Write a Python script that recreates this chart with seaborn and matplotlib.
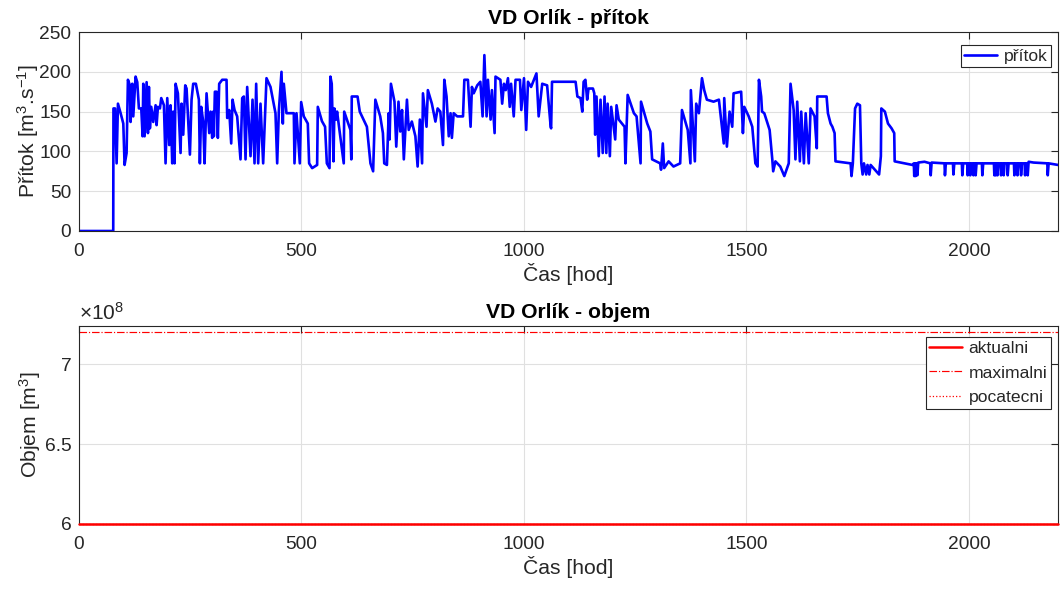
import matplotlib
matplotlib.use("Agg")
import matplotlib.pyplot as plt
import seaborn as sns
import numpy as np
import pandas as pd
from matplotlib.ticker import FuncFormatter

# ---------------- data ----------------
# inflow (přítok) breakpoints: (hour, m3/s)
pritok_body = [
    (0, 0), (77, 0), (77.5, 154), (81, 154), (84.6, 85), (87.6, 160), (93.6, 148), (99.6, 135),
    (102.5, 83), (107, 98), (110, 190), (114.5, 183), (116, 137), (119.8, 185), (122, 144),
    (127.2, 194), (131, 187), (134.7, 154), (140, 154), (143, 119), (144.5, 185), (147.5, 119),
    (152, 187), (155, 123), (157.2, 181), (159.4, 129), (162.4, 156), (166.9, 137), (172.2, 158),
    (174.4, 133), (177.4, 156), (181.9, 154), (184.9, 167), (190.9, 158), (194.6, 85), (198.4, 167),
    (202.8, 108), (205.8, 158), (209.6, 85), (211.8, 150), (214.8, 85), (217.1, 185), (222.3, 173),
    (228.3, 98), (230.5, 160), (234.3, 121), (238.8, 183), (241.8, 179), (249.3, 96), (253, 165),
    (256.7, 185), (262.7, 185), (269.5, 165), (271.7, 85), (274.7, 156), (279.2, 137), (282.2, 85),
    (286.7, 173), (292.7, 123), (295.7, 150), (299.4, 117), (301.6, 150), (303.1, 119), (305.4, 175),
    (309.1, 175), (312.1, 117), (315.1, 185), (321.9, 190), (331.6, 190), (333.1, 142), (337.6, 152),
    (342.1, 110), (345.1, 165), (349.6, 152), (355.5, 144), (363, 90), (366.8, 167), (370.5, 169),
    (374.3, 90), (378, 181), (385.5, 94), (390, 165), (394.5, 85), (398.2, 185), (402.7, 85),
    (407.9, 160), (413.9, 85), (421.4, 192), (430.4, 181), (441.6, 148), (445.4, 85), (449.1, 150),
    (455.1, 200), (458.1, 135), (460.3, 185), (466.3, 148), (482.8, 148), (484.3, 85), (488.8, 148),
    (496.3, 85), (499.3, 162), (505.2, 144), (514.2, 135), (517.2, 85), (524, 79), (535.2, 83),
    (536.7, 156), (546, 138), (553, 131), (557, 85), (563, 79), (565, 194), (568, 185), (572, 87.5),
    (574, 154), (578, 140), (580, 150), (595, 85), (596, 150), (602, 140), (610, 127), (612, 90),
    (613, 169), (626, 169), (631, 150), (636, 144), (647, 131), (655, 85), (661, 75), (666, 165),
    (677, 144), (683, 123), (686, 85), (692, 83), (696, 148), (698, 115), (701, 185), (709, 162.5),
    (713, 106), (718, 162.5), (722, 125), (726, 152), (730, 90), (737, 165), (741, 127), (748, 137.5),
    (756, 119), (761, 81), (766, 140), (771, 85), (773, 173), (781, 131), (784, 177), (793, 160),
    (801, 137.5), (806, 154), (812, 150), (818, 108), (821, 190), (826, 169), (831, 119), (835, 148),
    (838, 117), (842, 148), (850, 144), (863, 144), (866, 190), (874, 190), (880, 131), (883, 181),
    (887, 173), (895, 183), (902, 187.5), (907, 144), (911, 221), (916, 144), (919, 190), (925, 140),
    (928, 177), (934, 123), (936, 194), (947, 190), (951, 160), (955, 185), (959, 177), (964, 192),
    (968, 156), (971, 185), (977, 144), (981, 190), (991, 190), (994, 152), (1000, 192), (1005, 127),
    (1009, 187.5), (1016, 181), (1028, 198), (1033, 144), (1041, 185), (1052, 183), (1060, 131),
    (1061, 129), (1063, 187.5), (1116, 187.5), (1120, 169), (1127, 167), (1131, 150), (1134, 187.5),
    (1138, 190), (1142, 165), (1145, 179), (1155, 179), (1158, 173), (1160, 121), (1163, 169),
    (1168, 94), (1172, 165), (1177, 98), (1181, 169), (1185, 98), (1188, 160), (1193, 94), (1196, 156),
    (1205, 115), (1208, 158), (1213, 140), (1226, 131), (1228, 85), (1233, 171), (1247, 148),
    (1253, 144), (1262, 85), (1263, 162.5), (1277, 135), (1284, 125), (1288, 90), (1306, 85),
    (1308, 77), (1312, 110), (1315, 79), (1325, 87.5), (1336, 81), (1351, 85), (1355, 152), (1368, 127),
    (1374, 85), (1375, 177), (1384, 87.5), (1387, 160), (1393, 148), (1400, 192), (1405, 177),
    (1411, 165), (1426, 162.5), (1438, 165), (1449, 110), (1450, 167), (1456, 106), (1462, 150),
    (1468, 131), (1471, 173), (1488, 175), (1492, 123), (1495, 156), (1505, 144), (1513, 131),
    (1520, 85), (1525, 81), (1528, 190), (1533, 169), (1535, 150), (1540, 148), (1552, 127), (1558, 90),
    (1560, 75), (1565, 87.5), (1576, 81), (1585, 69), (1595, 85), (1599, 185), (1606, 152), (1610, 90),
    (1614, 162.5), (1620, 87.5), (1623, 150), (1629, 85), (1633, 148), (1640, 85), (1644, 154),
    (1653, 144), (1658, 104), (1659, 169), (1680, 169), (1683, 148), (1689, 135), (1693, 131),
    (1698, 123), (1700, 87.5), (1734, 85), (1736, 69), (1739, 85), (1744, 154), (1749, 160),
    (1755, 158), (1758, 85), (1761, 71), (1764, 85), (1769, 71), (1772, 83), (1776, 71), (1779, 83),
    (1798, 71), (1802, 94), (1803, 154), (1811, 150), (1818, 135), (1826, 129), (1832, 123),
    (1833, 87.5), (1873, 83), (1876, 85), (1877, 69), (1879, 85), (1880, 69), (1882, 85), (1884, 70),
    (1886, 86), (1900, 87), (1913, 85), (1914, 70), (1916, 86), (1945, 85), (1946, 70), (1948, 85),
    (1964, 85), (1965, 71), (1967, 85), (1984, 85), (1985, 70), (1987, 85), (1996, 85), (1997, 70),
    (1999, 85), (2002, 85), (2003, 70), (2005, 85), (2009, 85), (2010, 70), (2012, 85), (2014, 85),
    (2015, 70), (2017, 85), (2029, 85), (2030, 70), (2032, 85), (2056, 85), (2057, 70), (2058, 85),
    (2059, 85), (2060, 70), (2061, 85), (2063, 85), (2064, 70), (2066, 85), (2071, 85), (2072, 70),
    (2074, 85), (2077, 85), (2078, 70), (2080, 85), (2086, 85), (2087, 70), (2089, 85), (2101, 85),
    (2102, 70), (2104, 85), (2108, 85), (2109, 70), (2111, 85), (2116, 85), (2117, 70), (2119, 85),
    (2125, 85), (2126, 70), (2128, 85), (2131, 85), (2132, 70), (2134, 87), (2145, 86), (2176, 85),
    (2177, 70), (2179, 85), (2200, 83),
]
cas_pritok = [p[0] for p in pritok_body]
pritok = [p[1] for p in pritok_body]

# reservoir volume (objem)
cas_objem = [0, 2200]
objem_aktualni = [6.0e8, 6.0e8]
objem_maximalni = [7.205e8, 7.205e8]
objem_pocatecni = [6.0e8, 6.0e8]

x_ticks = [0, 500, 1000, 1500, 2000]
y_ticks_pritok = [0, 50, 100, 150, 200, 250]
y_ticks_objem = [6.0e8, 6.5e8, 7.0e8]

# ---------------- style ----------------
sns.set_style("white")
plt.rcParams['font.family'] = ['Liberation Sans', 'DejaVu Sans']
plt.rcParams['mathtext.fontset'] = 'custom'
plt.rcParams['mathtext.rm'] = 'Liberation Sans'
plt.rcParams['mathtext.it'] = 'Liberation Sans:italic'
plt.rcParams['mathtext.bf'] = 'Liberation Sans:bold'

axcol = (0.15, 0.15, 0.15)
gridcol = (0.88, 0.88, 0.88)
TICK_FS = 13.8
LABEL_FS = 15.2
TITLE_FS = 15.2
LEG_FS = 12.6

fig = plt.figure(figsize=(10.6, 5.92), dpi=100)
ax1 = fig.add_axes([0.0745, 0.6098, 0.9236, 0.3361])
ax2 = fig.add_axes([0.0745, 0.1149, 0.9236, 0.3345])


def style_axes(ax):
    ax.set_xlim(0, 2200)
    ax.set_xticks(x_ticks)
    ax.grid(True, color=gridcol, lw=0.8)
    ax.set_axisbelow(True)
    for s in ax.spines.values():
        s.set_color(axcol)
        s.set_linewidth(0.8)
    ax.tick_params(direction='in', top=True, right=True, length=5, width=0.8,
                   colors=axcol, labelsize=TICK_FS)
    ax.tick_params(axis='x', pad=8.5)
    ax.tick_params(axis='y', pad=5.5)


def make_legend(ax, handles, labels, top_gap_px):
    w_ax = 979.0
    h_ax = 199.0
    leg = ax.legend(handles, labels, loc='upper right',
                    bbox_to_anchor=(1 - 7 / w_ax, 1 - top_gap_px / h_ax),
                    bbox_transform=ax.transAxes, borderaxespad=0,
                    fontsize=LEG_FS, frameon=True, fancybox=False, edgecolor=axcol,
                    framealpha=1, handlelength=1.85, borderpad=0.2,
                    handletextpad=0.4, labelspacing=0.55)
    leg.get_frame().set_linewidth(0.8)
    return leg


# top: inflow
df1 = pd.DataFrame({"cas": cas_pritok, "pritok": pritok})
sns.lineplot(data=df1, x="cas", y="pritok", ax=ax1, color=(0, 0, 1), lw=1.9,
             sort=False, estimator=None, label="přítok")
ax1.set_ylim(0, 250)
ax1.set_yticks(y_ticks_pritok)
style_axes(ax1)
ax1.set_title("VD Orlík - přítok", fontsize=TITLE_FS, fontweight='bold', pad=6,
              color='black')
ax1.set_xlabel("Čas [hod]", fontsize=LABEL_FS, color=axcol, labelpad=2)
ax1.set_ylabel("Přítok [m$^3$.s$^{-1}$]", fontsize=LABEL_FS, color=axcol, labelpad=-1)
h, l = ax1.get_legend_handles_labels()
make_legend(ax1, h, l, 13)

# bottom: volume
df2 = pd.DataFrame({"cas": cas_objem, "akt": objem_aktualni,
                    "max": objem_maximalni, "poc": objem_pocatecni})
sns.lineplot(data=df2, x="cas", y="poc", ax=ax2, color=(1, 0, 0), lw=0.9,
             linestyle=':', label="pocatecni", estimator=None)
sns.lineplot(data=df2, x="cas", y="max", ax=ax2, color=(1, 0, 0), lw=0.85,
             linestyle='-.', label="maximalni", estimator=None)
sns.lineplot(data=df2, x="cas", y="akt", ax=ax2, color=(1, 0, 0), lw=1.8,
             label="aktualni", estimator=None)
for ln in ax2.get_lines():
    ln.set_clip_on(False)
    if ln.get_linestyle() == '-':
        ln.set_zorder(4)
ax2.set_ylim(6.0e8, 7.24e8)
ax2.set_yticks(y_ticks_objem)
ax2.yaxis.set_major_formatter(FuncFormatter(lambda v, p: f"{v / 1e8:g}"))
style_axes(ax2)
ax2.set_title("VD Orlík - objem", fontsize=TITLE_FS, fontweight='bold', pad=6,
              color='black')
ax2.set_xlabel("Čas [hod]", fontsize=LABEL_FS, color=axcol, labelpad=2)
ax2.set_ylabel("Objem [m$^3$]", fontsize=LABEL_FS, color=axcol, labelpad=1)
ax2.text(0.0, 1.012, r"$\times10^{8}$", transform=ax2.transAxes, ha='left',
         va='bottom', fontsize=15, color=axcol)
h, l = ax2.get_legend_handles_labels()
order = [l.index("aktualni"), l.index("maximalni"), l.index("pocatecni")]
leg2 = make_legend(ax2, [h[i] for i in order], [l[i] for i in order], 11)
for lh in leg2.get_lines():
    lh.set_color((1, 0, 0))

fig.savefig("out.png", dpi=100)
